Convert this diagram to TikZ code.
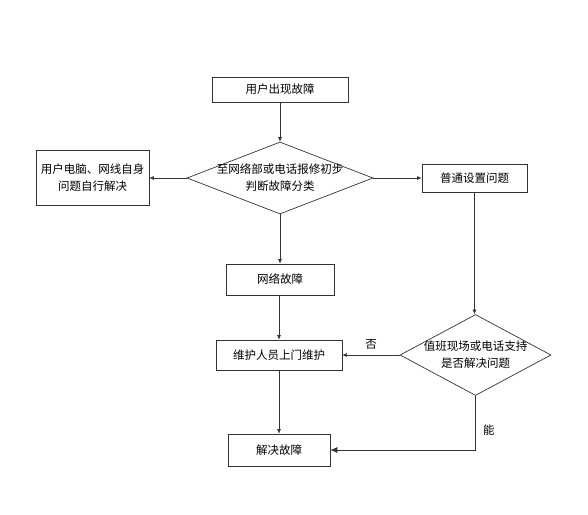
\documentclass[tikz,border=0pt]{standalone}
\usepackage{fontspec}
\setmainfont{Noto Sans CJK SC}
\usetikzlibrary{arrows.meta,positioning,shapes.geometric}
\definecolor{FlowLine}{HTML}{333333}

\begin{document}
\begin{tikzpicture}[x=1pt,y=-1pt,
  every node/.style={font=\fontsize{11.5}{17}\selectfont,text=black},
  stepbox/.style={draw=FlowLine,line width=0.7pt,rectangle,inner sep=0pt,align=center},
  decision/.style={draw=FlowLine,line width=0.7pt,diamond,inner sep=0pt},
  flow/.style={draw=FlowLine,line width=0.6pt,-{Latex[length=4.5pt,width=4pt]}}]
  \useasboundingbox (0,0) rectangle (588,514);
  % Start
  \node[stepbox,minimum width=136pt,minimum height=25pt]
    (start) at (280,89.5) {用户出现故障};
  % First decision
  \node[decision,minimum width=186pt,minimum height=72pt,
    label={[align=center]center:{至网络部或电话报修初步\\判断故障分类}}]
    (judge) at (280,178) {};
  % Side outcomes
  \node[stepbox,minimum width=113pt,minimum height=55pt]
    (self) at (92.5,177.5) {用户电脑、网线自身\\问题自行解决};
  \node[stepbox,minimum width=105pt,minimum height=28pt]
    (common) at (474.5,178) {普通设置问题};
  \node[stepbox,minimum width=108pt,minimum height=31pt]
    (netfault) at (280,279.5) {网络故障};
  \node[stepbox,minimum width=126pt,minimum height=30pt]
    (repair) at (279,355) {维护人员上门维护};
  % Second decision
  \node[decision,minimum width=151pt,minimum height=81pt,
    label={[align=center]center:{值班现场或电话支持\\是否解决问题}}]
    (check) at (475.5,355) {};
  \node[stepbox,minimum width=102pt,minimum height=32pt]
    (solved) at (279,450) {解决故障};
  % Connectors
  \draw[flow] (start) -- (judge);
  \draw[flow] (judge.west) -- (judge.west -| self.east);
  \draw[flow] (judge.east) -- (judge.east -| common.west);
  \draw[flow] (judge.south) -- (judge.south |- netfault.north);
  \draw[flow] (netfault.south -| repair.north) -- (repair.north);
  \draw[flow] (common.south) -- (common.south |- check.north);
  \draw[flow] (check.west) -- node[above=2pt]{否} (check.west -| repair.east);
  \draw[flow] (repair) -- (solved);
  \draw[draw=FlowLine,line width=0.6pt,-{Latex[length=7pt,width=6pt]}]
    (check.south) -- node[pos=0.64,right=4pt]{能} (check.south |- solved.east)
    -- (solved.east);
\end{tikzpicture}
\end{document}
